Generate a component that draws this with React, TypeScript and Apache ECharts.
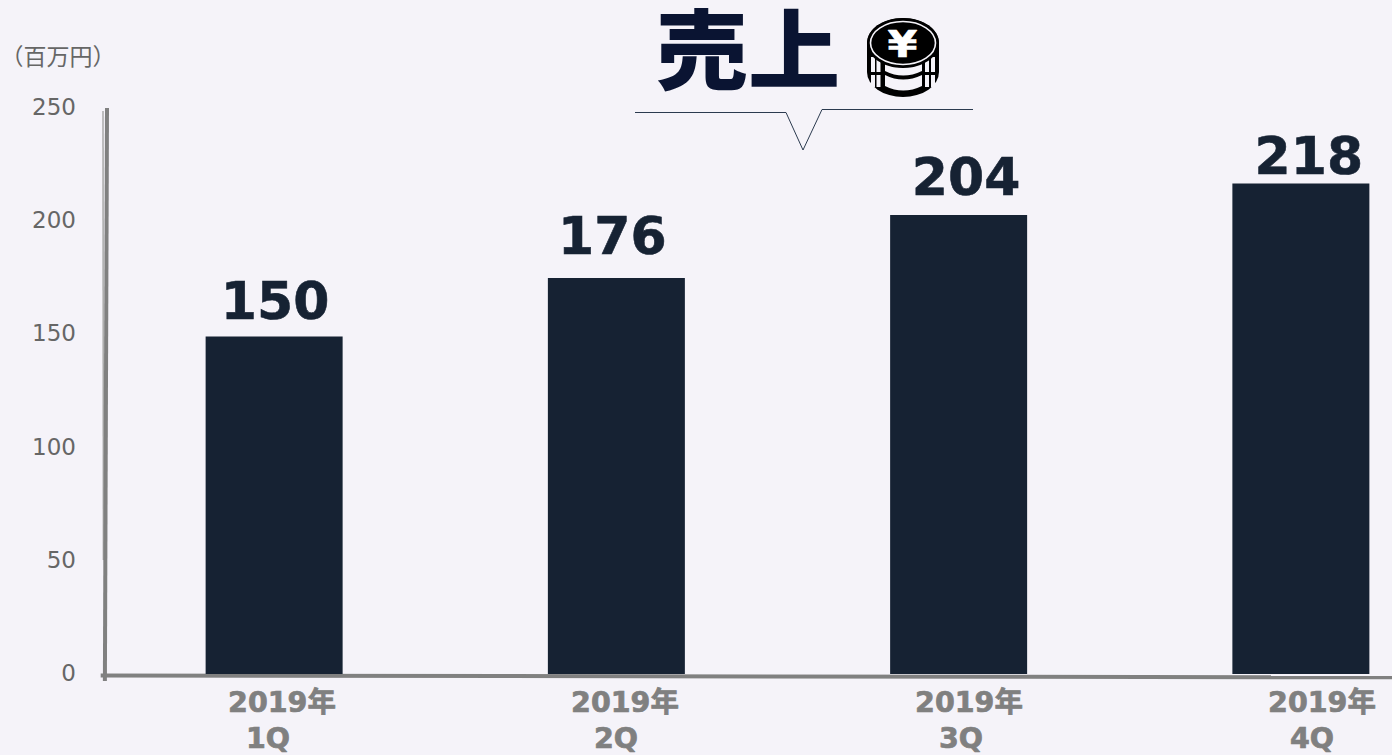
import React, { useEffect, useRef } from "react";
import * as echarts from "echarts";

const categories = ["2019年1Q", "2019年2Q", "2019年3Q", "2019年4Q"];
const yearLabels = ["2019年", "2019年", "2019年", "2019年"];
const quarterLabels = ["1Q", "2Q", "3Q", "4Q"];
const sales = [150, 176, 204, 218];
const yTicks = [0, 50, 100, 150, 200, 250];

const yearCentres = [282, 625, 969, 1322];
const quarterCentres = [268, 616, 961, 1312];
const labelShiftX = [1, -4, 7.5, 8];
const labelShiftY = [-7, -13, -9, 1];

const BG = "#f5f3f9";
const BAR = "#162233";
const GREY = "#808080";
const CJK = '"DejaVu Sans","Noto Sans CJK JP",sans-serif';

echarts.graphic.registerShape(
  "coinBody",
  echarts.graphic.extendPath(
    "M867 43 A36 25 0 0 1 939 43 L939 72 A36 25 0 0 1 867 72 Z",
    {}
  ) as any
);
echarts.graphic.registerShape(
  "coinBands",
  echarts.graphic.extendPath(
    "M885 63 Q903 72 922 63 L922 71 Q903 80 885 71 Z M885 75 Q903 84 922 75 L922 86 Q903 95 885 86 Z",
    {}
  ) as any
);

function coinIcon(): any[] {
  const stripes: any[] = [];
  const stripeXs = [871, 876.5, 925, 931];
  stripeXs.forEach((x) => {
    stripes.push({
      type: "rect",
      shape: { x, y: 57, width: 4, height: 15 },
      style: { fill: BG },
    });
    stripes.push({
      type: "rect",
      shape: { x, y: 75, width: 4, height: 12 },
      style: { fill: BG },
    });
  });
  return [
    { type: "coinBody", style: { fill: "#000" } },
    { type: "coinBands", style: { fill: BG } },
    ...stripes,
    {
      type: "ellipse",
      shape: { cx: 903, cy: 43, rx: 36, ry: 25 },
      style: { fill: "#000" },
    },
    {
      type: "ellipse",
      shape: { cx: 903, cy: 43, rx: 32.5, ry: 21.5 },
      style: { fill: "#000", stroke: BG, lineWidth: 1.6 },
    },
    {
      type: "text",
      x: 902.5,
      y: 43.5,
      scaleY: 0.88,
      style: {
        text: "¥",
        fill: "#fff",
        stroke: "#fff",
        lineWidth: 0.6,
        font: 'bold 43px "DejaVu Sans",sans-serif',
        align: "center",
        verticalAlign: "middle",
      },
    },
  ];
}

export default function App() {
  const ref = useRef<HTMLDivElement>(null);

  useEffect(() => {
    document.body.style.margin = "0";
    document.body.style.background = BG;
    const chart = echarts.init(ref.current!, undefined, { renderer: "svg" });
    const texts: any[] = [];
    yearLabels.forEach((t, i) => {
      texts.push({
        type: "text",
        x: yearCentres[i],
        y: 702,
        style: {
          text: t,
          fill: GREY,
          stroke: GREY,
          lineWidth: 0.7,
          font: `bold 28.5px ${CJK}`,
          align: "center",
          verticalAlign: "middle",
        },
      });
      texts.push({
        type: "text",
        x: quarterCentres[i],
        y: 738,
        style: {
          text: quarterLabels[i],
          fill: GREY,
          stroke: GREY,
          lineWidth: 0.7,
          font: `bold 28.5px ${CJK}`,
          align: "center",
          verticalAlign: "middle",
        },
      });
    });
    chart.setOption({
      animation: false,
      backgroundColor: BG,
      grid: [
        { left: 103, top: 111.5, width: 1369, height: 562.5, containLabel: false },
        { left: 103, top: 107, width: 1200, height: 566, containLabel: false },
      ],
      xAxis: [
        {
          type: "category",
          gridIndex: 0,
          data: categories,
          axisLine: { show: false },
          axisTick: { show: false },
          axisLabel: { show: false },
        },
        { type: "value", gridIndex: 1, show: false, min: 0, max: 1 },
      ],
      yAxis: [
        { type: "value", gridIndex: 0, min: 0, max: 250, interval: 50, show: false },
        {
          type: "value",
          gridIndex: 1,
          min: yTicks[0],
          max: yTicks[yTicks.length - 1],
          interval: 50,
          axisLine: { show: false },
          axisTick: { show: false },
          splitLine: { show: false },
          axisLabel: {
            margin: 27,
            color: "#666666",
            fontSize: 23,
            fontFamily: "DejaVu Sans",
          },
        },
      ],
      series: [
        {
          type: "bar",
          xAxisIndex: 0,
          yAxisIndex: 0,
          barWidth: 137,
          itemStyle: { color: BAR },
          data: sales.map((v, i) => ({
            value: v,
            label: {
              show: true,
              position: "top",
              distance: 3,
              offset: [labelShiftX[i], labelShiftY[i]],
              color: BAR,
              fontSize: 52,
              fontWeight: "bold",
              fontFamily: "DejaVu Sans",
              textBorderColor: BAR,
              textBorderWidth: 0.6,
            },
          })),
        },
      ],
      graphic: [
        {
          type: "group",
          silent: true,
          children: [
            {
              type: "line",
              shape: { x1: 103, y1: 111, x2: 103.4, y2: 560 },
              style: { stroke: "#aaaaaa", lineWidth: 1.5 },
            },
            {
              type: "line",
              shape: { x1: 107, y1: 108, x2: 104.9, y2: 681 },
              style: { stroke: GREY, lineWidth: 4 },
            },
            {
              type: "line",
              shape: { x1: 100.7, y1: 675.5, x2: 1392, y2: 677.3 },
              style: { stroke: GREY, lineWidth: 4 },
            },
            {
              type: "polyline",
              shape: {
                points: [
                  [635, 112.5],
                  [786, 112.5],
                  [803, 150],
                  [822, 109.5],
                  [973, 109.5],
                ],
              },
              style: { stroke: "#2b3a4f", lineWidth: 1, fill: "none" },
            },
            {
              type: "text",
              x: 748,
              y: 45,
              scaleX: 1.06,
              style: {
                text: "売上",
                fill: "#0a1432",
                font: '900 87px "Noto Sans CJK JP",sans-serif',
                lineHeight: 70,
                align: "center",
                verticalAlign: "middle",
              },
            },
            {
              type: "text",
              x: 58,
              y: 55,
              style: {
                text: "（百万円）",
                fill: "#666666",
                font: '23px "Noto Sans CJK JP",sans-serif',
                align: "center",
                verticalAlign: "middle",
              },
            },
            ...texts,
            ...coinIcon(),
          ],
        },
      ],
    });
    return () => chart.dispose();
  }, []);

  return (
    <div style={{ width: 1392, height: 755, overflow: "hidden" }}>
      <div ref={ref} style={{ width: 1500, height: 755 }} />
    </div>
  );
}
